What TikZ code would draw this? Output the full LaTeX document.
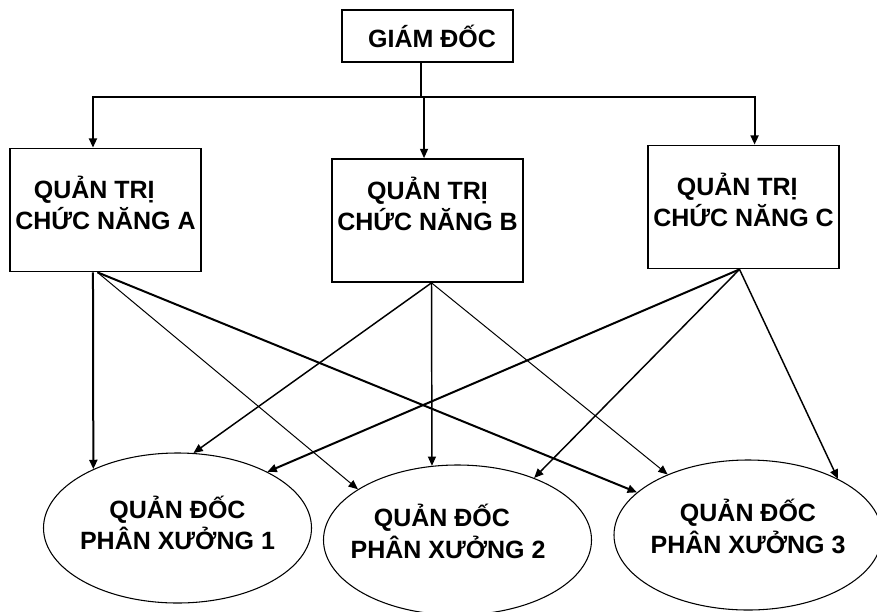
\documentclass[tikz,border=0pt]{standalone}
\usepackage{fontspec}
\setmainfont{Liberation Sans}
\usetikzlibrary{arrows.meta}
\usetikzlibrary{shapes.geometric}
\newcommand{\extradepth}[1]{\rule[-#1]{0pt}{0pt}}
\newcommand{\zw}[1]{\makebox[0pt]{#1}}
\tikzset{
    box/.style={draw, line width=1.3pt, minimum width=143.25pt, minimum height=92.25pt, inner sep=0pt, align=center},
    workshop/.style={draw, ellipse, line width=0.8pt, minimum width=201pt, minimum height=112.5pt, inner sep=0pt, align=center},
    link/.style={line width=1.1pt, -{Triangle[length=7pt,width=6pt]}},
    thinlink/.style={link, line width=0.75pt},
    thicklink/.style={link, line width=1.5pt}
}

\begin{document}
\begin{tikzpicture}[x=0.75pt, y=-0.75pt, font=\bfseries\fontsize{18.75pt}{23.75pt}\selectfont]
    \useasboundingbox (0,0) rectangle (877,611);
    \node[box, minimum width=128.25pt, minimum height=39pt] (gd) at (427.5,36) {\hspace*{6.75pt}GIÁM ĐỐC};
    \node[box] (A) at (105.5,210) {QUẢN TRỊ\hspace*{0.9em}\\CHỨC NĂNG A\extradepth{11pt}};
    \node[box] (B) at (427.5,220.5) {QUẢN TRỊ\\CHỨC NĂNG B\extradepth{25pt}};
    \node[box] (C) at (743.5,207) {QUẢN TRỊ\hspace*{0.5em}\\CHỨC NĂNG C\extradepth{11pt}};
    \node[workshop] (e1) at (177.5,528) {\zw{QUẢN ĐỐC}\\\zw{PHÂN XƯỞNG 1}\extradepth{8pt}};
    \node[workshop] (e2) at (457.5,540) {\zw{QUẢN ĐỐC\hspace*{1.25em}}\\\zw{PHÂN XƯỞNG 2\hspace*{0.75em}}\extradepth{13.5pt}};
    \node[workshop] (e3) at (748,535) {\zw{QUẢN ĐỐC}\\\zw{PHÂN XƯỞNG 3}\extradepth{13pt}};

    \coordinate (bus) at (421,97);
    \draw[line width=1.2pt] ([xshift=-4.9pt]gd.south) -- (bus);
    \draw[thicklink] (bus) -| ([xshift=-9.4pt]A.north);
    \draw[thicklink] (bus) -| ([xshift=8.3pt]C.north);
    \draw[link] ([xshift=-2.6pt]B.north |- bus) -- ([xshift=-2.6pt]B.north);

    \draw[thicklink] ([xshift=-9.4pt]A.south) -- (e1.145.4);
    \draw[thinlink] ([xshift=-6pt]A.south) -- (e2.153.2);
    \draw[thicklink] ([xshift=-6pt]A.south) -- (e3.159.7);
    \draw[link] ([xshift=3pt]B.south) -- (e1.78.2);
    \draw[link] ([xshift=3pt]B.south) -- (e2.109.8);
    \draw[thinlink] ([xshift=3pt]B.south) -- (e3.143.4);
    \draw[thicklink] ([xshift=-3pt]C.south) -- (e1.32.5);
    \draw[link] ([xshift=-3pt]C.south) -- (e2.39.4);
    \draw[link] ([xshift=-3pt]C.south) -- (e3.32.3);
\end{tikzpicture}
\end{document}
